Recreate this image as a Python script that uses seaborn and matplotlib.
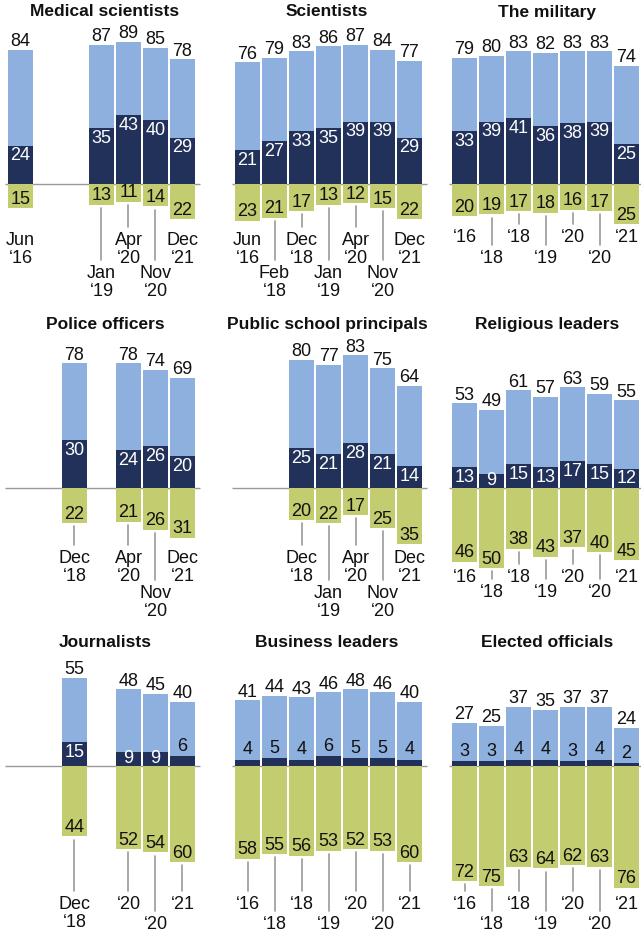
import pandas as pd
import seaborn as sns
import matplotlib.pyplot as plt

sns.set_style('white')
plt.rcParams['font.family'] = ['Liberation Sans', 'DejaVu Sans']

# survey waves, shared categorical slots for every panel
waves = ['Jun 2016', 'Feb 2018', 'Dec 2018', 'Jan 2019', 'Apr 2020', 'Nov 2020', 'Dec 2021']

# medical scientists
med_waves = ['Jun 2016', 'Jan 2019', 'Apr 2020', 'Nov 2020', 'Dec 2021']
med_total = [84, 87, 89, 85, 78]
med_great = [24, 35, 43, 40, 29]
med_neg = [15, 13, 11, 14, 22]
med_labels = ['Jun\n‘16', 'Jan\n‘19', 'Apr\n‘20', 'Nov\n‘20', 'Dec\n‘21']

# scientists
sci_waves = waves
sci_total = [76, 79, 83, 86, 87, 84, 77]
sci_great = [21, 27, 33, 35, 39, 39, 29]
sci_neg = [23, 21, 17, 13, 12, 15, 22]
sci_labels = ['Jun\n‘16', 'Feb\n‘18', 'Dec\n‘18', 'Jan\n‘19', 'Apr\n‘20', 'Nov\n‘20', 'Dec\n‘21']

# the military
mil_waves = waves
mil_total = [79, 80, 83, 82, 83, 83, 74]
mil_great = [33, 39, 41, 36, 38, 39, 25]
mil_neg = [20, 19, 17, 18, 16, 17, 25]
short_labels = ['‘16', '‘18', '‘18', '‘19', '‘20', '‘20', '‘21']

# police officers
pol_waves = ['Dec 2018', 'Apr 2020', 'Nov 2020', 'Dec 2021']
pol_total = [78, 78, 74, 69]
pol_great = [30, 24, 26, 20]
pol_neg = [22, 21, 26, 31]
pol_labels = ['Dec\n‘18', 'Apr\n‘20', 'Nov\n‘20', 'Dec\n‘21']

# public school principals
psp_waves = ['Dec 2018', 'Jan 2019', 'Apr 2020', 'Nov 2020', 'Dec 2021']
psp_total = [80, 77, 83, 75, 64]
psp_great = [25, 21, 28, 21, 14]
psp_neg = [20, 22, 17, 25, 35]
psp_labels = ['Dec\n‘18', 'Jan\n‘19', 'Apr\n‘20', 'Nov\n‘20', 'Dec\n‘21']

# religious leaders
rel_waves = waves
rel_total = [53, 49, 61, 57, 63, 59, 55]
rel_great = [13, 9, 15, 13, 17, 15, 12]
rel_neg = [46, 50, 38, 43, 37, 40, 45]

# journalists
jou_waves = ['Dec 2018', 'Apr 2020', 'Nov 2020', 'Dec 2021']
jou_total = [55, 48, 45, 40]
jou_great = [15, 9, 9, 6]
jou_neg = [44, 52, 54, 60]
jou_labels = ['Dec\n‘18', '‘20', '‘20', '‘21']

# business leaders
bus_waves = waves
bus_total = [41, 44, 43, 46, 48, 46, 40]
bus_great = [4, 5, 4, 6, 5, 5, 4]
bus_neg = [58, 55, 56, 53, 52, 53, 60]

# elected officials
ele_waves = waves
ele_total = [27, 25, 37, 35, 37, 37, 24]
ele_great = [3, 3, 4, 4, 3, 4, 2]
ele_neg = [72, 75, 63, 64, 62, 63, 76]

LIGHT = '#8EB0DE'
NAVY = '#22315A'
GREEN = '#C4CC70'
GREY = '#999999'
FS = 13
FS_TITLE = 12.5

W, H = 641, 935
PX_SLOT, PX_UNIT = 27, 1.6
col_x0 = [20.5, 247.5, 464.5]
col_title = [105, 327, 547]
row_base = [184, 488, 766]
row_title = [107.5, 102, 77]

# isolated first bar has its date straight below, no leader line
no_leader = {('Medical scientists', 'Jun 2016')}

# title, waves, total, great, neg, tick labels, row, col, upper label top, lower label top
panels = [
    ('Medical scientists', med_waves, med_total, med_great, med_neg, med_labels, 0, 0, 30, 50.6),
    ('Scientists', sci_waves, sci_total, sci_great, sci_neg, sci_labels, 0, 1, 30, 50.6),
    ('The military', mil_waves, mil_total, mil_great, mil_neg, short_labels, 0, 2, 28, 41),
    ('Police officers', pol_waves, pol_total, pol_great, pol_neg, pol_labels, 1, 0, 38.75, 60.6),
    ('Public school principals', psp_waves, psp_total, psp_great, psp_neg, psp_labels, 1, 1, 38.75, 60.6),
    ('Religious leaders', rel_waves, rel_total, rel_great, rel_neg, short_labels, 1, 2, 50.6, 60),
    ('Journalists', jou_waves, jou_total, jou_great, jou_neg, jou_labels, 2, 0, 81, 93.75),
    ('Business leaders', bus_waves, bus_total, bus_great, bus_neg, short_labels, 2, 1, 81, 93.75),
    ('Elected officials', ele_waves, ele_total, ele_great, ele_neg, short_labels, 2, 2, 81, 93.75),
]

fig = plt.figure(figsize=(W / 100, H / 100), dpi=100)

for title, pw, total, great, neg, labels, r, c, up_top, low_top in panels:
    x0, base = col_x0[c], row_base[r]
    left_px = x0 - 0.7 * PX_SLOT
    top_px = base - 112 * PX_UNIT
    bot_px = base + 105 * PX_UNIT
    ax = fig.add_axes([left_px / W, 1 - bot_px / H, 7.5 * PX_SLOT / W, (bot_px - top_px) / H])

    df = pd.DataFrame({'wave': pw, 'total': total, 'great': great,
                       'neg': [-v for v in neg]})
    for col, colr in [('total', LIGHT), ('great', NAVY), ('neg', GREEN)]:
        sns.barplot(data=df, x='wave', y=col, order=waves, color=colr, width=0.926,
                    saturation=1, errorbar=None, linewidth=0, ax=ax, zorder=2)

    ax.plot([-0.58, 6.65], [0, 0], color=GREY, lw=1, zorder=1, solid_capstyle='butt')

    for i, w in enumerate(pw):
        x = waves.index(w)
        ax.text(x, total[i] + 5, str(total[i]), ha='center', va='center', fontsize=FS, color='#111111')
        g = great[i]
        if g >= 9:
            ax.text(x, g - min(6.5, g / 2), str(g), ha='center', va='center', fontsize=FS, color='white', zorder=3)
        else:
            ax.text(x, g + 6, str(g), ha='center', va='center', fontsize=FS, color='#111111', zorder=3)
        ax.text(x, -neg[i] + 5.5, str(neg[i]), ha='center', va='center', fontsize=FS, color='#111111', zorder=3)

        # date label, alternating upper / lower rows
        lab_top = up_top if x % 2 == 0 else low_top
        ax.text(x, -lab_top, labels[i], ha='center', va='top', fontsize=FS, color='#111111',
                linespacing=1.1)
        y_start = -neg[i] - 2
        y_end = -lab_top + 3
        if y_start - y_end >= 4 and (title, w) not in no_leader:
            ax.plot([x, x], [y_start, y_end], color=GREY, lw=1.2, zorder=1)

    ax.text((col_title[c] - x0) / PX_SLOT, row_title[r], title, ha='center', va='center',
            fontsize=FS_TITLE, fontweight='bold', color='#111111')

    ax.set_xlim(-0.7, 6.8)
    ax.set_ylim(-105, 112)
    ax.axis('off')

fig.savefig('out.png', dpi=100)
